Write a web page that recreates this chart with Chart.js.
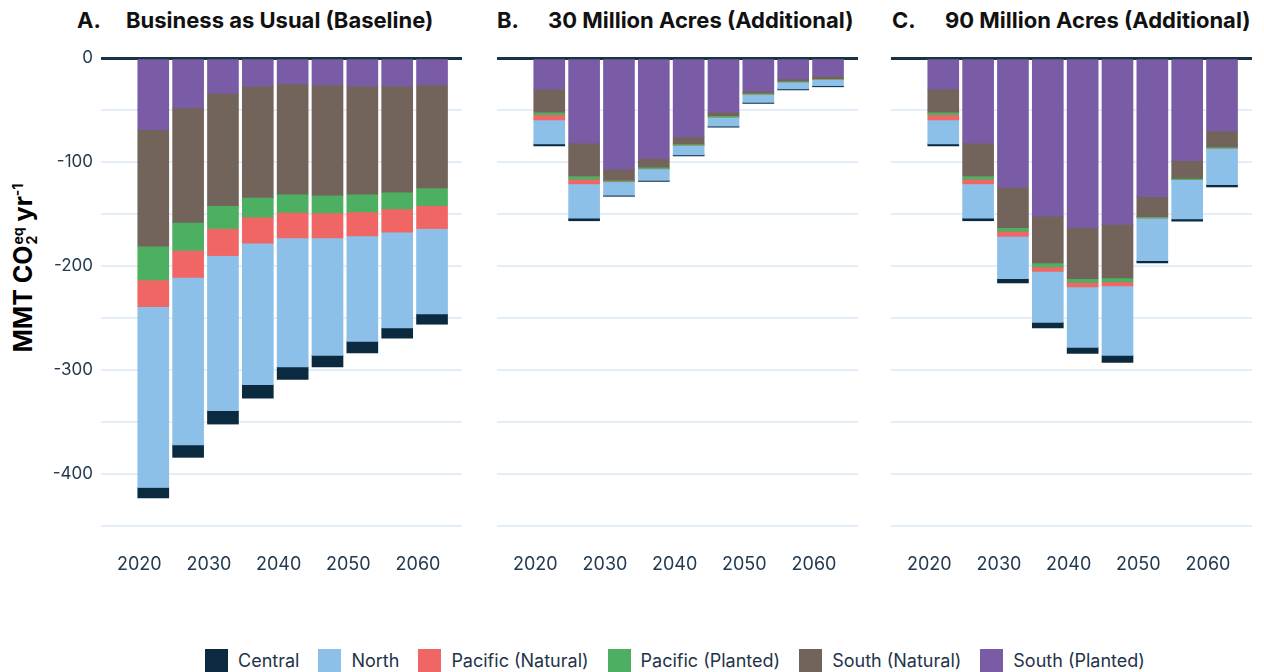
<!DOCTYPE html>
<html>
<head>
<meta charset="utf-8">
<script src="https://cdn.jsdelivr.net/npm/chart.js@4.4.1/dist/chart.umd.min.js"></script>
<style>
  html, body { margin: 0; padding: 0; background: #ffffff; }
  body { width: 1264px; height: 672px; position: relative; overflow: hidden; font-family: Inter, "Noto Sans", sans-serif; }
  canvas { position: absolute; top: 0; }
  .ptitle { position: absolute; top: 7px; font-weight: 700; font-size: 22px; color: #111; white-space: nowrap; }
  .ptitle .lab { position: absolute; left: 0; }
  .ytitle { position: absolute; left: 24px; top: 268px; transform: translate(-50%, -50%) rotate(-90deg); font-weight: 700; font-size: 25px; color: #000; white-space: nowrap; }
  .ytitle .ss { display: inline-flex; flex-direction: column; vertical-align: middle; font-size: 14px; line-height: 14px; margin-left: 1px; }
  .ytitle sup { font-size: 14px; }
  .legend { position: absolute; left: 205px; top: 649px; display: flex; align-items: center; font-size: 18px; color: #1f3448; }
  .legend .it { display: flex; align-items: center; margin-right: 19px; }
  .legend .sw { width: 23px; height: 23px; margin-right: 10px; }
</style>
</head>
<body>
<div class="ptitle" style="left:77px;"><span class="lab">A.</span><span style="margin-left:49px;">Business as Usual (Baseline)</span></div>
<div class="ptitle" style="left:497px;"><span class="lab">B.</span><span style="margin-left:51px;">30 Million Acres (Additional)</span></div>
<div class="ptitle" style="left:892px;"><span class="lab">C.</span><span style="margin-left:53px;">90 Million Acres (Additional)</span></div>
<div class="ytitle">MMT CO<span class="ss"><span>eq</span><span>2</span></span> yr<sup>-1</sup></div>
<canvas id="cA" width="470" height="600" style="left:0px;"></canvas>
<canvas id="cB" width="390" height="600" style="left:480px;"></canvas>
<canvas id="cC" width="394" height="600" style="left:870px;"></canvas>
<div class="legend" id="legend"></div>
<script>
const years = [2020, 2025, 2030, 2035, 2040, 2045, 2050, 2055, 2060];
const xTickLabels = [2020, 2030, 2040, 2050, 2060];
const seriesNames = ["South (Planted)", "South (Natural)", "Pacific (Planted)", "Pacific (Natural)", "North", "Central"];
const seriesColors = ["#7a5ca6", "#73645b", "#4caf62", "#f06664", "#8cc0e8", "#0b2a40"];
const legendOrder = ["Central", "North", "Pacific (Natural)", "Pacific (Planted)", "South (Natural)", "South (Planted)"];

// Panel A: Business as Usual (Baseline)
const southPlantedA   = [-69, -48, -34, -27, -25, -26, -27, -27, -26];
const southNaturalA   = [-112, -110, -108, -107, -106, -106, -104, -102, -99];
const pacificPlantedA = [-32.5, -27, -22, -19, -17.5, -17, -17, -16, -17];
const pacificNaturalA = [-25.5, -26, -26, -25, -24.5, -24, -23, -22.5, -22];
const northA          = [-174, -161, -149, -136, -124, -113, -101.5, -92, -82];
const centralA        = [-10, -12, -13, -13, -12, -11, -11, -10, -10];

// Panel B: 30 Million Acres (Additional)
const southPlantedB   = [-30, -82, -107, -96.5, -76, -52, -32, -20, -17.6];
const southNaturalB   = [-22, -31.5, -10.5, -8.5, -6.5, -3.5, -1.7, -2.2, -2.3];
const pacificPlantedB = [-2.5, -3, -1, -1.3, -1.3, -1.3, -1, -0.7, -0.6];
const pacificNaturalB = [-5, -4.5, -0.5, -0.3, -0.3, -0.2, -0.2, -0.1, -0.1];
const northB          = [-23, -33, -13, -11, -9, -8.5, -7.7, -6.7, -6.1];
const centralB        = [-2, -2.5, -1, -1, -1, -1, -1, -0.9, -1];

// Panel C: 90 Million Acres (Additional)
const southPlantedC   = [-30, -82, -124.4, -152.2, -163.1, -159.9, -133.3, -98.7, -70.2];
const southNaturalC   = [-22, -31.5, -38.7, -44.9, -49.1, -51.6, -19.2, -17, -15.4];
const pacificPlantedC = [-2.5, -3, -3.6, -3.9, -3.5, -3.9, -1.3, -1.2, -1];
const pacificNaturalC = [-5, -4.5, -4.8, -4.1, -4.5, -3.8, -0.3, -0.2, -0.2];
const northC          = [-23, -33, -40.7, -49.1, -58, -66.7, -40.8, -37.7, -35];
const centralC        = [-2, -2.5, -4.1, -5.4, -5.8, -6.7, -2.2, -2.2, -2.2];

const yTickValues = [0, -100, -200, -300, -400];

function makeChart(id, series, yWidth, padRight, showY) {
  const datasets = series.map((vals, i) => ({
    label: seriesNames[i],
    data: years.map((yr, j) => ({ x: yr, y: vals[j] })),
    backgroundColor: seriesColors[i],
    borderWidth: 0,
    barThickness: 31,
  }));
  return new Chart(document.getElementById(id), {
    type: 'bar',
    data: { datasets },
    options: {
      responsive: false,
      animation: false,
      devicePixelRatio: 1,
      layout: { autoPadding: false, padding: { top: 58, right: padRight, left: 0, bottom: 0 } },
      plugins: { legend: { display: false }, tooltip: { enabled: false } },
      scales: {
        x: {
          type: 'linear',
          stacked: true,
          offset: false,
          bounds: 'data',
          min: 2012.5,
          max: 2064.3,
          grid: { display: false, drawTicks: false, offset: false },
          border: { display: false },
          afterBuildTicks: (s) => { s.ticks = xTickLabels.map(v => ({ value: v })); },
          afterFit: (s) => { s.height = 74; s.paddingLeft = 0; s.paddingRight = 0; },
          ticks: {
            autoSkip: false,
            maxRotation: 0,
            padding: 28,
            labelOffset: -14,
            color: '#243a50',
            font: { family: 'Inter', size: 18 },
            callback: (v) => String(v),
          },
        },
        y: {
          stacked: true,
          min: -450,
          max: 0,
          afterFit: (s) => { s.width = yWidth; s.paddingTop = 0; s.paddingBottom = 0; },
          border: { display: false },
          grid: {
            drawTicks: false,
            color: (c) => c.tick.value === 0 ? '#1b3244' : '#e3eefa',
            lineWidth: (c) => c.tick.value === 0 ? 3 : 2,
          },
          ticks: {
            display: showY,
            stepSize: 50,
            padding: 8,
            color: '#243a50',
            font: { family: 'Inter', size: 17 },
            callback: (v) => yTickValues.includes(v) ? String(v) : '',
          },
        },
      },
    },
  });
}

makeChart('cA', [southPlantedA, southNaturalA, pacificPlantedA, pacificNaturalA, northA, centralA], 101, 8, true);
makeChart('cB', [southPlantedB, southNaturalB, pacificPlantedB, pacificNaturalB, northB, centralB], 17, 12, false);
makeChart('cC', [southPlantedC, southNaturalC, pacificPlantedC, pacificNaturalC, northC, centralC], 21, 12, false);

const leg = document.getElementById('legend');
legendOrder.forEach(name => {
  const i = seriesNames.indexOf(name);
  const it = document.createElement('div');
  it.className = 'it';
  const sw = document.createElement('div');
  sw.className = 'sw';
  sw.style.background = seriesColors[i];
  const tx = document.createElement('span');
  tx.textContent = name;
  it.appendChild(sw); it.appendChild(tx);
  leg.appendChild(it);
});
</script>
</body>
</html>
